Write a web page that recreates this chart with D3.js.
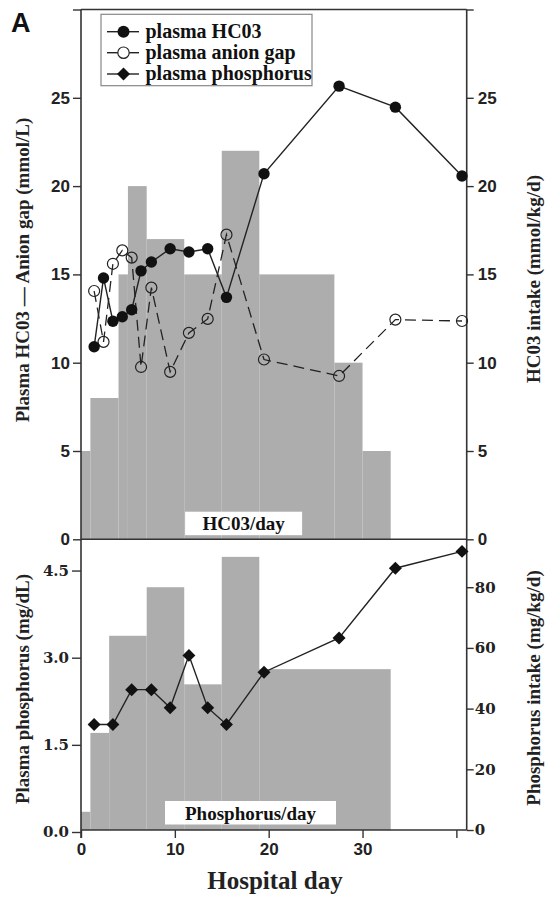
<!DOCTYPE html>
<html>
<head>
<meta charset="utf-8">
<script src="https://cdn.jsdelivr.net/npm/d3@7"></script>
<style>
  body { margin: 0; background: #fff; }
  svg { display: block; }
</style>
</head>
<body>
<script>
// plasma values, top panel (mmol/L)
const bloodDays = [1.4, 2.4, 3.4, 4.4, 5.4, 6.4, 7.5, 9.5, 11.5, 13.5, 15.5, 19.5, 27.5, 33.5, 40.6];
const hco3 = [10.9, 14.8, 12.35, 12.6, 13.0, 15.2, 15.7, 16.45, 16.27, 16.45, 13.7, 20.7, 25.66, 24.47, 20.57];
const anionGap = [14.06, 11.18, 15.6, 16.36, 15.95, 9.76, 14.25, 9.48, 11.69, 12.48, 17.25, 10.18, 9.25, 12.44, 12.36];

// plasma phosphorus, bottom panel (mg/dL)
const phosDays = [1.4, 3.4, 5.4, 7.5, 9.5, 11.5, 13.5, 15.5, 19.5, 27.5, 33.5, 40.6];
const phos = [1.85, 1.85, 2.45, 2.45, 2.14, 3.04, 2.14, 1.85, 2.75, 3.34, 4.54, 4.83];

// daily intake steps (start day, value), last step ends on day 33
const hco3IntakeStart = [0, 1, 4, 5, 7, 11, 15, 19, 27, 30];
const hco3Intake = [5, 8, 15, 20, 17, 15, 22, 15, 10, 5];
const phosIntakeStart = [0, 1, 3, 7, 11, 15, 19];
const phosIntake = [6, 32, 64, 80, 48, 90, 53];
const intakeEnd = 33;

const topTicks = [0, 5, 10, 15, 20, 25, 30];
const phosTicks = [0, 1.5, 3.0, 4.5];
const phosIntakeTicks = [0, 20, 40, 60, 80];
const dayTicks = [0, 10, 20, 30, 40];

const W = 546, H = 898;
const left = 81, right = 466.7;
const topY = 9.5, midY = 539.3, botY = 830;

const grey = "#adadad";
const axisCol = "#333";
const serif = "'Liberation Serif', 'Times New Roman', serif";
const sans = "'Liberation Sans', Arial, sans-serif";
const dserif = "'DejaVu Serif', serif";

const svg = d3.select("body").append("svg")
  .attr("width", W).attr("height", H);

const x = d3.scaleLinear().domain([0, 41.1]).range([left, right]);
const y = d3.scaleLinear().domain([0, 30]).range([midY, topY]);
const yP = d3.scaleLinear().domain([0, 5]).range([832, 541.5]);
const yPi = d3.scaleLinear().domain([0, 95]).range([botY, 541.7]);

function steps(starts, vals) {
  return starts.map((s, i) => ({x0: s, x1: i < starts.length - 1 ? starts[i + 1] : intakeEnd, v: vals[i]}));
}

// intake bars
svg.append("g").attr("fill", grey)
  .selectAll("rect").data(steps(hco3IntakeStart, hco3Intake)).join("rect")
  .attr("x", d => x(d.x0)).attr("width", d => x(d.x1) - x(d.x0))
  .attr("y", d => y(d.v)).attr("height", d => y(0) - y(d.v));

svg.append("g").attr("fill", grey)
  .selectAll("rect").data(steps(phosIntakeStart, phosIntake)).join("rect")
  .attr("x", d => x(d.x0)).attr("width", d => x(d.x1) - x(d.x0))
  .attr("y", d => yPi(d.v)).attr("height", d => yPi(0) - yPi(d.v));

// white label boxes inside the bars
function boxLabel(txt, cx, y0, w, h) {
  svg.append("rect").attr("x", cx - w / 2).attr("y", y0).attr("width", w).attr("height", h).attr("fill", "white");
  svg.append("text").attr("x", cx).attr("y", y0 + h - 5)
    .attr("text-anchor", "middle").attr("font-family", serif).attr("font-weight", "bold")
    .attr("font-size", 19).attr("fill", "#111").text(txt);
}
boxLabel("HC03/day", 243.6, 511.7, 117, 23.5);
boxLabel("Phosphorus/day", 250.5, 801, 171, 23.5);

// frame lines
const frame = svg.append("g").attr("stroke", axisCol).attr("stroke-width", 1.6);
frame.append("line").attr("x1", left).attr("x2", right).attr("y1", topY).attr("y2", topY);
frame.append("line").attr("x1", left).attr("x2", right).attr("y1", midY).attr("y2", midY);
frame.append("line").attr("x1", left).attr("x2", right).attr("y1", botY).attr("y2", botY);
frame.append("line").attr("x1", left).attr("x2", left).attr("y1", topY).attr("y2", 838);
frame.append("line").attr("x1", right).attr("x2", right).attr("y1", topY).attr("y2", botY);

function styleAxis(g, font, size) {
  g.select(".domain").remove();
  g.selectAll(".tick line").attr("stroke", axisCol).attr("stroke-width", 1.4);
  g.selectAll(".tick text").attr("font-family", font).attr("font-weight", "bold")
    .attr("font-size", size).attr("fill", "#222");
}

svg.append("g").attr("transform", `translate(${left},0)`)
  .call(d3.axisLeft(y).tickValues(topTicks).tickFormat(d => d === 30 ? "" : d).tickSize(8).tickPadding(3))
  .call(g => styleAxis(g, sans, 17));
svg.append("g").attr("transform", `translate(${right},0)`)
  .call(d3.axisRight(y).tickValues(topTicks).tickFormat(d => d === 30 ? "" : d).tickSize(7).tickPadding(4))
  .call(g => styleAxis(g, sans, 17));
svg.append("g").attr("transform", `translate(${left},0)`)
  .call(d3.axisLeft(yP).tickValues(phosTicks).tickFormat(d3.format(".1f")).tickSize(9).tickPadding(3))
  .call(g => styleAxis(g, dserif, 15));
svg.append("g").attr("transform", `translate(${right},0)`)
  .call(d3.axisRight(yPi).tickValues(phosIntakeTicks).tickSize(7).tickPadding(1))
  .call(g => styleAxis(g, dserif, 15));
svg.append("g").attr("transform", `translate(0,${botY})`)
  .call(d3.axisBottom(x).tickValues(dayTicks).tickFormat(d => d === 40 ? "" : d).tickSize(8).tickPadding(5))
  .call(g => styleAxis(g, sans, 17));

// axis titles
function vTitle(txt, cx, cy) {
  svg.append("text").attr("transform", `translate(${cx},${cy}) rotate(-90)`)
    .attr("text-anchor", "middle").attr("dy", "0.35em")
    .attr("font-family", serif).attr("font-weight", "bold").attr("font-size", 19)
    .attr("fill", "#222").text(txt);
}
vTitle("Plasma HC03 \u2014 Anion gap (mmol/L)", 22, 270);
vTitle("HC03 intake (mmol/kg/d)", 533, 279);
vTitle("Plasma phosphorus (mg/dL)", 22, 689);
vTitle("Phosphorus intake (mg/kg/d)", 533, 688);

svg.append("text").attr("x", 275).attr("y", 889).attr("text-anchor", "middle")
  .attr("font-family", serif).attr("font-weight", "bold").attr("font-size", 25)
  .attr("fill", "#222").text("Hospital day");

svg.append("text").attr("x", 11).attr("y", 32)
  .attr("font-family", sans).attr("font-weight", "bold").attr("font-size", 27)
  .attr("fill", "#111").text("A");

// series lines
const hco3Pts = bloodDays.map((d, i) => [d, hco3[i]]);
const agPts = bloodDays.map((d, i) => [d, anionGap[i]]);
const phosPts = phosDays.map((d, i) => [d, phos[i]]);

const lineTop = d3.line().x(d => x(d[0])).y(d => y(d[1]));
const lineBot = d3.line().x(d => x(d[0])).y(d => yP(d[1]));

svg.append("path").datum(agPts).attr("d", lineTop)
  .attr("fill", "none").attr("stroke", "#222").attr("stroke-width", 1.3)
  .attr("stroke-dasharray", "11,6");
svg.append("path").datum(hco3Pts).attr("d", lineTop)
  .attr("fill", "none").attr("stroke", "#222").attr("stroke-width", 1.4);
svg.append("path").datum(phosPts).attr("d", lineBot)
  .attr("fill", "none").attr("stroke", "#222").attr("stroke-width", 1.4);

// markers
const diamond = d3.symbol().type(d3.symbolSquare).size(84);

svg.append("g").selectAll("circle").data(agPts).join("circle")
  .attr("cx", d => x(d[0])).attr("cy", d => y(d[1])).attr("r", 5.5)
  .attr("fill", "none").attr("stroke", "#222").attr("stroke-width", 1.2);
svg.append("g").selectAll("circle").data(hco3Pts).join("circle")
  .attr("cx", d => x(d[0])).attr("cy", d => y(d[1])).attr("r", 5.7)
  .attr("fill", "#111");
svg.append("g").selectAll("path").data(phosPts).join("path")
  .attr("d", diamond)
  .attr("transform", d => `translate(${x(d[0])},${yP(d[1])}) rotate(45)`)
  .attr("fill", "#111");

// legend
const leg = svg.append("g");
leg.append("rect").attr("x", 101).attr("y", 14.3).attr("width", 211).attr("height", 71.4)
  .attr("fill", "white").attr("stroke", "#888").attr("stroke-width", 1.2);
const legItems = [
  {label: "plasma HC03", kind: "filled"},
  {label: "plasma anion gap", kind: "open"},
  {label: "plasma phosphorus", kind: "diamond"}
];
const legRows = [31.7, 52.7, 74];
legItems.forEach((it, i) => {
  const cy = legRows[i];
  leg.append("line").attr("x1", 107).attr("x2", 139).attr("y1", cy).attr("y2", cy)
    .attr("stroke", "#222").attr("stroke-width", 1.4);
  if (it.kind === "filled") {
    leg.append("circle").attr("cx", 123.5).attr("cy", cy).attr("r", 6).attr("fill", "#111");
  } else if (it.kind === "open") {
    leg.append("circle").attr("cx", 123.5).attr("cy", cy).attr("r", 5.7)
      .attr("fill", "white").attr("stroke", "#222").attr("stroke-width", 1.2);
  } else {
    leg.append("path").attr("d", diamond).attr("transform", `translate(123.5,${cy}) rotate(45)`).attr("fill", "#111");
  }
  leg.append("text").attr("x", 145.5).attr("y", cy + 6)
    .attr("font-family", serif).attr("font-weight", "bold").attr("font-size", 20)
    .attr("fill", "#111").text(it.label);
});
</script>
</body>
</html>
